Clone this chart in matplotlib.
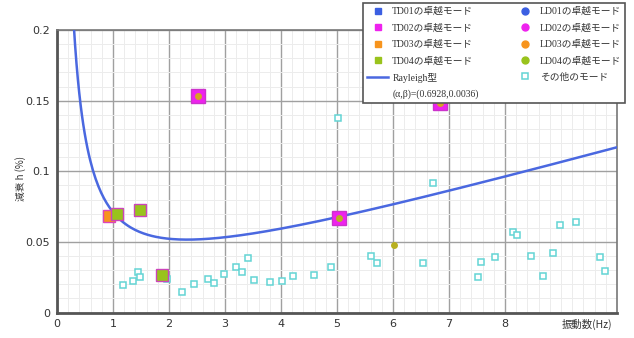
import numpy as np
import matplotlib
matplotlib.use("Agg")
import matplotlib.pyplot as plt
from matplotlib.lines import Line2D
from matplotlib.ticker import MultipleLocator

plt.rcParams['font.family'] = ['DejaVu Sans', 'Noto Sans CJK JP']

# ---- data ----
td03_f = [0.93]
td03_h = [0.0686]
td04_f = [1.07, 1.48, 1.88]
td04_h = [0.0698, 0.0726, 0.0266]
td02_f = [2.51, 5.03, 6.84]
td02_h = [0.153, 0.0671, 0.148]
ld03_f = [2.51, 6.84]
ld03_h = [0.153, 0.148]
ld04_f = [5.03, 6.01]
ld04_h = [0.0671, 0.048]

other_f = [1.17, 1.36, 1.44, 1.48, 1.97, 2.24, 2.45, 2.69, 2.81, 2.98, 3.20, 3.30,
           3.41, 3.51, 3.80, 4.02, 4.21, 4.59, 4.89, 5.01, 5.61, 5.71, 6.54, 6.71,
           7.52, 7.57, 7.82, 8.15, 8.22, 8.46, 8.68, 8.86, 8.99, 9.27, 9.70, 9.78]
other_h = [0.0195, 0.0223, 0.0285, 0.0254, 0.0237, 0.0143, 0.0200, 0.0237, 0.0211,
           0.0270, 0.0320, 0.0287, 0.0388, 0.0230, 0.0214, 0.0221, 0.0259, 0.0266,
           0.0320, 0.138, 0.0400, 0.0353, 0.0350, 0.0919, 0.0251, 0.0358, 0.0393,
           0.0568, 0.0551, 0.0400, 0.0258, 0.0424, 0.0620, 0.0643, 0.0390, 0.0294]

# Rayleigh curve h = a/f + b*f (coefficients)
curve_a = 0.060
curve_b = 0.0111
alpha_beta_label = "(α,β)=(0.6928,0.0036)"

xticks = [0, 1, 2, 3, 4, 5, 6, 7, 8]
yticks = [0, 0.05, 0.1, 0.15, 0.2]
ytick_labels = ["0", "0.05", "0.1", "0.15", "0.2"]

# ---- colours ----
c_td01 = "#3b5fe2"
c_td02 = "#ee22ee"
c_td03 = "#f7941d"
c_td04 = "#99c31c"
c_line = "#4a68e0"
c_other = "#63d4d4"

fig = plt.figure(figsize=(6.34, 3.38), dpi=100)
ax = fig.add_axes([0.0899, 0.0754, 0.8833, 0.8358])

ax.set_xlim(0, 10)
ax.set_ylim(0, 0.2)
ax.xaxis.set_major_locator(MultipleLocator(1))
ax.xaxis.set_minor_locator(MultipleLocator(0.2))
ax.yaxis.set_major_locator(MultipleLocator(0.05))
ax.yaxis.set_minor_locator(MultipleLocator(0.01))
ax.grid(which='minor', color='#ececec', linewidth=0.7)
ax.grid(which='major', color='#a0a0a0', linewidth=1.0)
ax.set_axisbelow(True)

ax.set_xticks(xticks)
ax.set_xticklabels([str(t) for t in xticks])
ax.set_yticks(yticks)
ax.set_yticklabels(ytick_labels)
ax.tick_params(which='both', length=0, labelsize=8, colors='#333333', pad=5)

for s in ['left', 'bottom']:
    ax.spines[s].set_color('#555555')
    ax.spines[s].set_linewidth(2)
for s in ['top', 'right']:
    ax.spines[s].set_color('#777777')
    ax.spines[s].set_linewidth(1.2)

# Rayleigh curve
f = np.linspace(0.25, 10, 400)
h = curve_a / f + curve_b * f
ax.plot(f, h, color=c_line, linewidth=1.8, zorder=3)

# other modes
ax.plot(other_f, other_h, linestyle='none', marker='s', markersize=5,
        markerfacecolor='white', markeredgecolor=c_other, markeredgewidth=1.1, zorder=4)

# TD / LD markers
ax.plot(td02_f, td02_h, linestyle='none', marker='s', markersize=9.5,
        markerfacecolor=c_td02, markeredgecolor='#cc33cc', markeredgewidth=1, zorder=5)
ax.plot(td03_f, td03_h, linestyle='none', marker='s', markersize=9,
        markerfacecolor=c_td03, markeredgecolor='#dd44bb', markeredgewidth=1, zorder=5)
ax.plot(td04_f, td04_h, linestyle='none', marker='s', markersize=9,
        markerfacecolor=c_td04, markeredgecolor='#cc44bb', markeredgewidth=1, zorder=6)
ax.plot(ld03_f, ld03_h, linestyle='none', marker='o', markersize=5,
        markerfacecolor='#d6a324', markeredgecolor='none', zorder=7)
ax.plot(ld04_f, ld04_h, linestyle='none', marker='o', markersize=5,
        markerfacecolor='#b8b020', markeredgecolor='none', zorder=7)

# axis labels
ax.text(-0.66, 0.095, "減衰 h (%)", rotation=90, ha='center', va='center',
        fontsize=7, color='#333333', family=['Noto Sans CJK JP'])
ax.text(9.47, -0.0085, "振動数(Hz)", ha='center', va='center',
        fontsize=7.5, color='#333333', family=['Noto Sans CJK JP'])

# legend
def sq(c):
    return Line2D([], [], linestyle='none', marker='s', markersize=5,
                  markerfacecolor=c, markeredgecolor=c)

def dot(c):
    return Line2D([], [], linestyle='none', marker='o', markersize=5,
                  markerfacecolor=c, markeredgecolor=c)

blank = Line2D([], [], linestyle='none')
handles = [sq(c_td01), sq(c_td02), sq(c_td03), sq(c_td04),
           Line2D([], [], color=c_line, linewidth=1.8), blank,
           dot(c_td01), dot(c_td02), dot(c_td03), dot(c_td04),
           Line2D([], [], linestyle='none', marker='s', markersize=5,
                  markerfacecolor='white', markeredgecolor=c_other, markeredgewidth=1.1),
           blank]
labels = ["TD01の卓越モード", "TD02の卓越モード", "TD03の卓越モード", "TD04の卓越モード",
          "Rayleigh型", alpha_beta_label,
          "LD01の卓越モード", "LD02の卓越モード", "LD03の卓越モード", "LD04の卓越モード",
          "その他のモード", ""]
leg = fig.legend(handles, labels, ncol=2, loc='upper left',
                 bbox_to_anchor=(0.5726, 0.991, 0.4134, 0.0), mode='expand',
                 borderaxespad=0.0,
                 frameon=True, fancybox=False,
                 edgecolor='#555555', framealpha=1, borderpad=0.4,
                 labelspacing=0.74, handlelength=2.2, handletextpad=0.4,
                 columnspacing=1.0,
                 prop={'family': ['Liberation Serif', 'Noto Sans CJK JP'], 'size': 7})
leg.get_frame().set_linewidth(1.2)
for t in leg.get_texts():
    t.set_color('#333333')
leg.set_zorder(10)

fig.savefig("out.png", dpi=100)
